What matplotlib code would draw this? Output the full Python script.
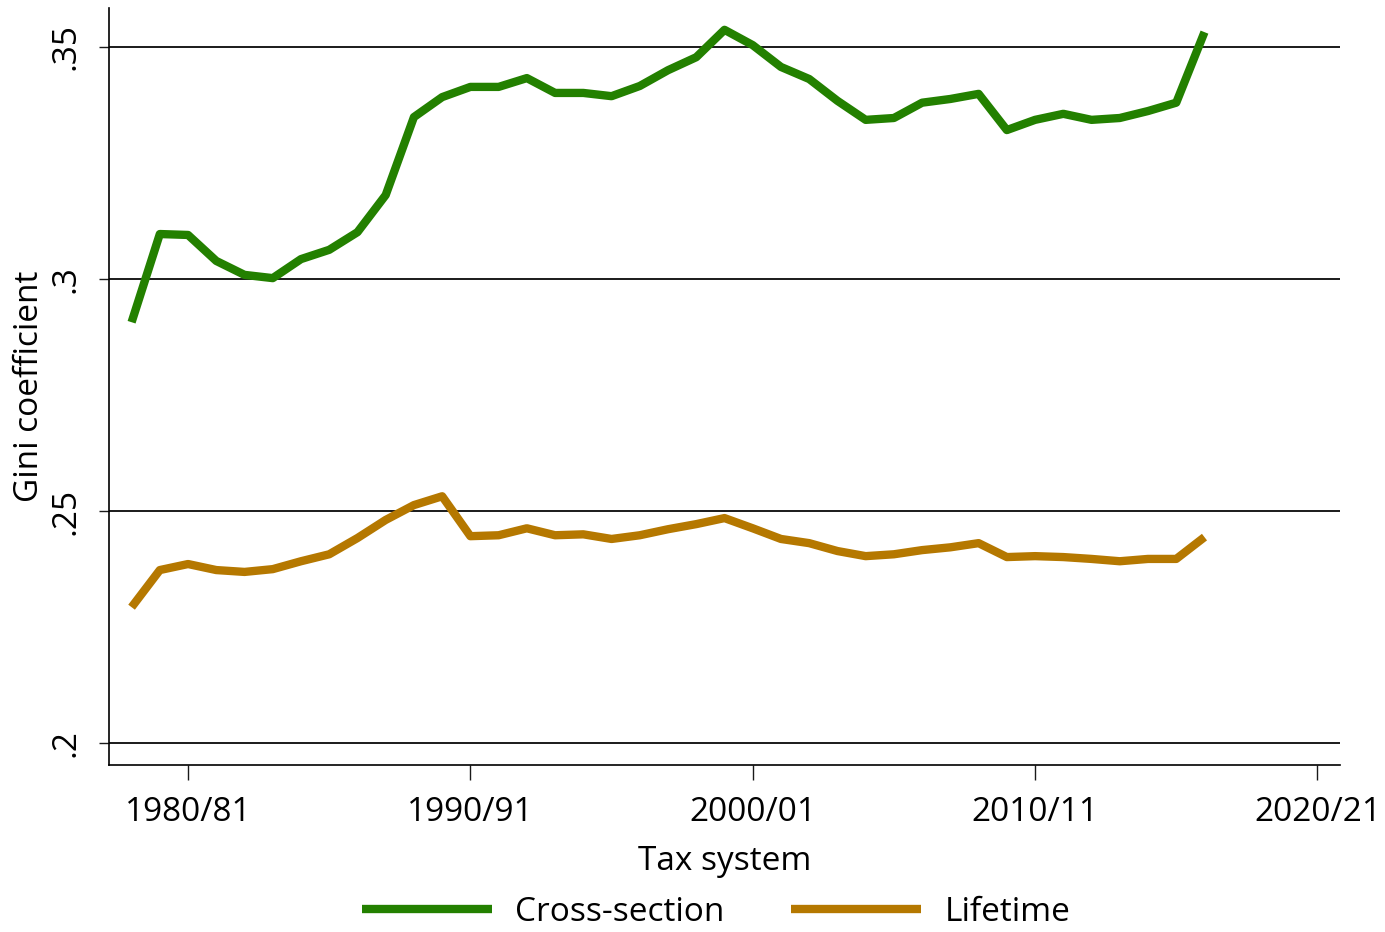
import matplotlib
matplotlib.use("Agg")
import matplotlib.pyplot as plt

# =========================
# Dados
# =========================
anos = list(range(1978, 2017))

cross_section = [
    0.2907, 0.3097, 0.3095, 0.3039, 0.3009, 0.3002, 0.3043, 0.3063, 0.3101, 0.3181,
    0.3349, 0.3392, 0.3414, 0.3414, 0.3433, 0.3401, 0.3401, 0.3394, 0.3416, 0.3450,
    0.3478, 0.3537, 0.3504, 0.3457, 0.3431, 0.3384, 0.3343, 0.3347, 0.3380, 0.3388,
    0.3399, 0.3321, 0.3343, 0.3356, 0.3343, 0.3347, 0.3362, 0.3380, 0.3532,
]

lifetime = [
    0.2293, 0.2373, 0.2386, 0.2373, 0.2369, 0.2375, 0.2392, 0.2407, 0.2442, 0.2481,
    0.2513, 0.2532, 0.2446, 0.2448, 0.2463, 0.2448, 0.2450, 0.2440, 0.2448, 0.2461,
    0.2472, 0.2485, 0.2463, 0.2440, 0.2431, 0.2414, 0.2403, 0.2407, 0.2416, 0.2422,
    0.2431, 0.2401, 0.2403, 0.2401, 0.2397, 0.2392, 0.2397, 0.2397, 0.2444,
]

x_ticks = [1980, 1990, 2000, 2010, 2020]
x_labels = ["1980/81", "1990/91", "2000/01", "2010/11", "2020/21"]
y_ticks = [0.20, 0.25, 0.30, 0.35]
y_labels = [".2", ".25", ".3", ".35"]

plt.rcParams["font.family"] = ["Open Sans", "DejaVu Sans"]
fs = 24

fig = plt.figure(figsize=(13.85, 9.32), dpi=100)
ax = fig.add_axes([109 / 1385, 1 - 765 / 932, (1340 - 109) / 1385, (765 - 8) / 932])

for y in y_ticks:
    ax.axhline(y, color="#1a1a1a", lw=1.4, zorder=1)

ax.plot(anos, cross_section, color="#238000", lw=6.0, label="Cross-section",
        solid_capstyle="butt", zorder=3)
ax.plot(anos, lifetime, color="#b57800", lw=6.0, label="Lifetime",
        solid_capstyle="butt", zorder=3)

ax.set_xlim(1977.2, 2020.8)
ax.set_ylim(0.1953, 0.3584)

ax.set_xticks(x_ticks)
ax.set_xticklabels(x_labels, fontsize=fs)
ax.set_yticks(y_ticks)
ax.set_yticklabels(y_labels, fontsize=fs, rotation=90, va="center")

ax.tick_params(axis="x", length=11, width=1, pad=11, color="#1a1a1a")
ax.tick_params(axis="y", length=7, width=1, pad=12, color="#1a1a1a")

for lado in ["top", "right"]:
    ax.spines[lado].set_visible(False)
ax.spines["left"].set_linewidth(1.2)
ax.spines["bottom"].set_linewidth(1.2)

ax.set_xlabel("Tax system", fontsize=fs, va="center")
ax.set_ylabel("Gini coefficient", fontsize=fs, va="center")
ax.xaxis.set_label_coords(0.5, (765 - 862) / 757)
ax.yaxis.set_label_coords((30 - 109) / 1231, 0.5)

fig.legend(loc="center", bbox_to_anchor=(0.517, 0.021), ncol=2, frameon=False,
           fontsize=fs, handlelength=3.9, columnspacing=2.0, handletextpad=0.7,
           borderpad=0.1)

fig.savefig("out.png", dpi=100)
